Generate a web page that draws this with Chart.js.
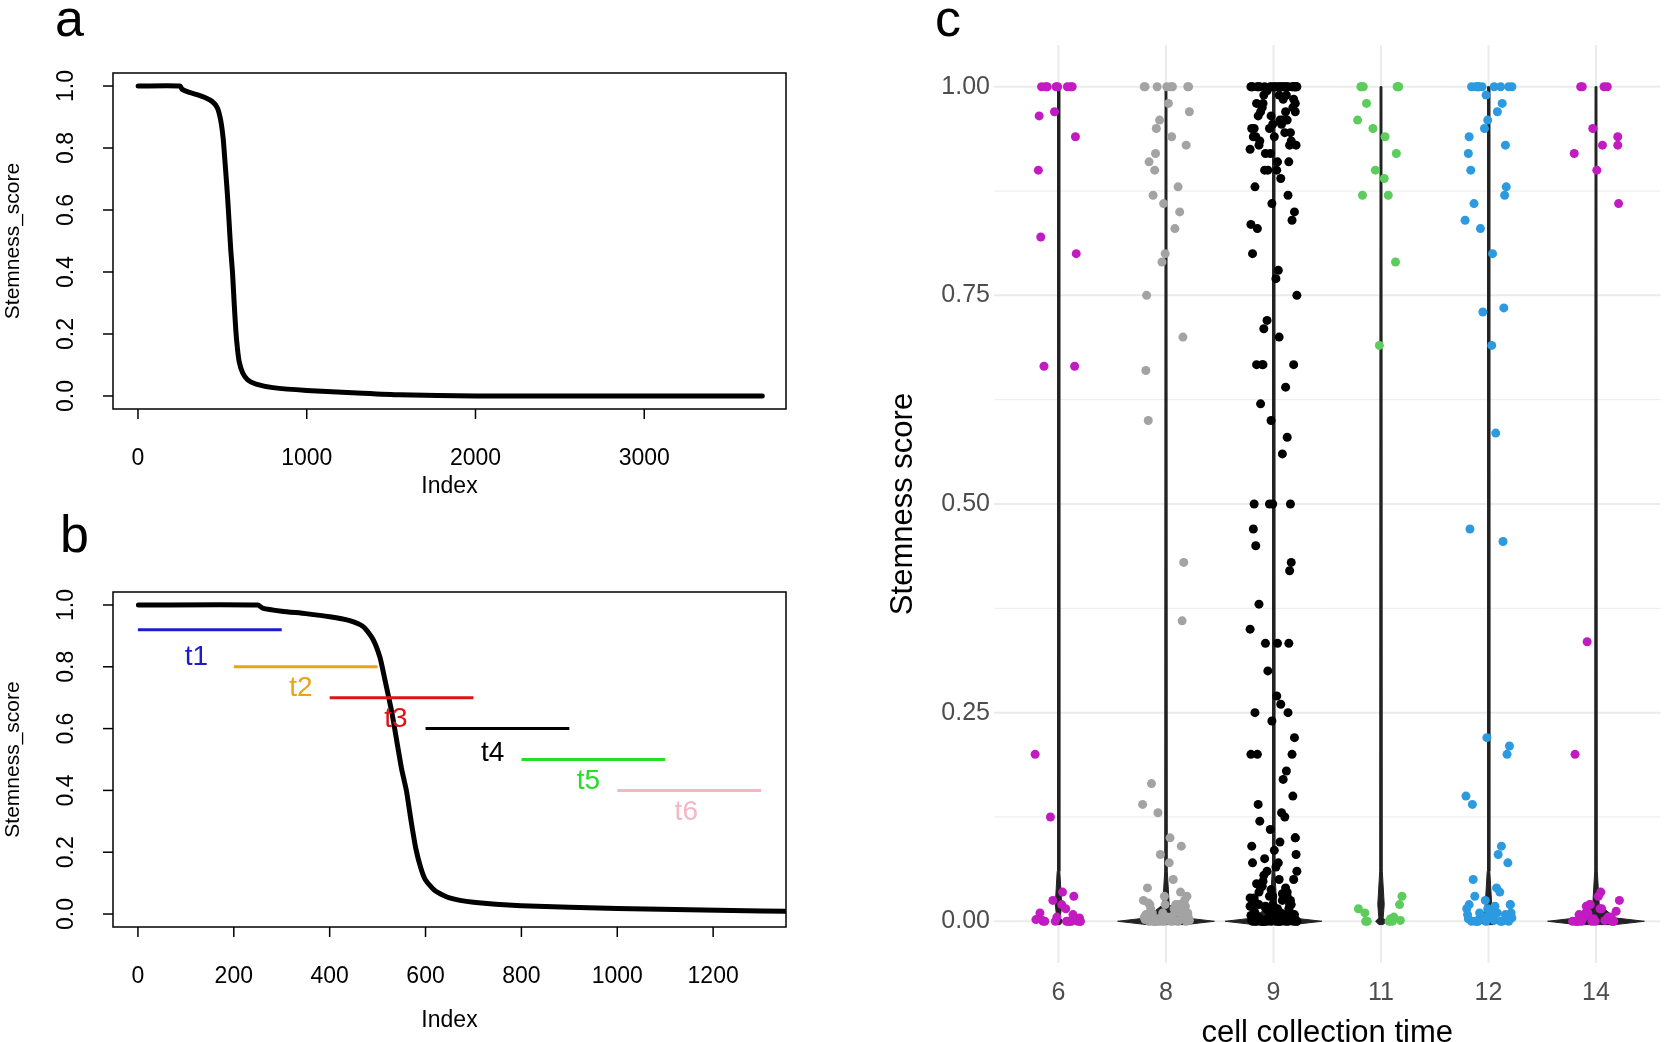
<!DOCTYPE html>
<html>
<head>
<meta charset="utf-8">
<script src="https://cdn.jsdelivr.net/npm/chart.js@4"></script>
<style>
  body { margin:0; background:#fff; width:1665px; height:1042px; overflow:hidden; position:relative; font-family:"Liberation Sans", Arial, sans-serif; }
  canvas { position:absolute; }
  .lt { position:absolute; font-size:52px; line-height:1; color:#000; }
</style>
</head>
<body>
<div class="lt" style="left:55px;top:-8px">a</div>
<div class="lt" style="left:60px;top:508px">b</div>
<div class="lt" style="left:935px;top:-8px">c</div>
<canvas id="chartA" width="820" height="520" style="left:0;top:0"></canvas>
<canvas id="chartB" width="820" height="522" style="left:0;top:520px"></canvas>
<canvas id="chartC" width="825" height="1042" style="left:840px;top:0"></canvas>
<script>
var curveIdx = [1, 250, 260, 300, 350, 400, 440, 470, 490, 505, 515, 530, 540, 550, 560, 570, 580, 590, 600, 620, 650, 700, 800, 1000, 1300, 1550, 2000, 3700];
var curveVal = [1, 1, 0.99, 0.98, 0.972, 0.962, 0.95, 0.93, 0.89, 0.83, 0.76, 0.65, 0.56, 0.47, 0.4, 0.3, 0.21, 0.15, 0.11, 0.075, 0.052, 0.038, 0.027, 0.018, 0.01, 0.004, 0, 0];

// time windows in panel b
var winNames = ["t1", "t2", "t3", "t4", "t5", "t6"];
var winStart = [0, 200, 400, 600, 800, 1000];
var winEnd = [300, 500, 700, 900, 1100, 1300];
var winLevel = [0.92, 0.8, 0.7, 0.6, 0.5, 0.4];
var winLabelX = [122, 340, 538, 740, 940, 1144];
var winLabelY = [0.83, 0.73, 0.63, 0.52, 0.43, 0.33];
var winColors = ["#1c1ccc", "#e9a317", "#dd1414", "#000000", "#28dd28", "#f4b7c5"];

var ticksA = [0, 1000, 2000, 3000];
var ticksB = [0, 200, 400, 600, 800, 1000, 1200];
var ticksY = [0, 0.2, 0.4, 0.6, 0.8, 1.0];

// panel c
var times = ["6", "8", "9", "11", "12", "14"];
var timeColors = ["#c21bc2", "#a3a3a3", "#000000", "#5ccc5c", "#2b9ae0", "#c21bc2"];
var violinWidth = [0.04, 0.45, 0.45, 0.05, 0.1, 0.45];
var scoreT6 = [1, 1, 1, 1, 1, 1, 1, 1, 0.97, 0.965, 0.94, 0.9, 0.82, 0.8, 0.665, 0.665, 0.2, 0.125, 0.035, 0.03, 0.025, 0.02, 0.015, 0.01, 0.008, 0.005, 0.004, 0.003, 0.002, 0.001, 0, 0, 0, 0, 0, 0, 0, 0, 0, 0];
var scoreT8 = [1, 1, 1, 1, 1, 1, 1, 1, 0.98, 0.97, 0.96, 0.95, 0.94, 0.93, 0.92, 0.91, 0.9, 0.88, 0.87, 0.86, 0.85, 0.83, 0.8, 0.79, 0.75, 0.7, 0.66, 0.6, 0.43, 0.36, 0.165, 0.14, 0.13, 0.1, 0.09, 0.08, 0.07, 0.05, 0.04, 0.035, 0.03, 0.03, 0.025, 0.025, 0.02, 0.02, 0.02, 0.018, 0.015, 0.015, 0.012, 0.01, 0.01, 0.01, 0.008, 0.006, 0.005, 0.005, 0.004, 0.003, 0.002, 0.002, 0.001, 0.001, 0, 0, 0, 0, 0, 0, 0, 0, 0, 0, 0.01, 0.015, 0.02, 0.005, 0.003, 0.012, 0.008, 0.022, 0.018, 0.006];
var scoreT9 = [1, 1, 1, 1, 1, 1, 1, 1, 1, 1, 1, 1, 1, 1, 1, 1, 1, 1, 1, 1, 1, 1, 1, 1, 1, 0.995, 0.99, 0.99, 0.985, 0.98, 0.98, 0.975, 0.97, 0.97, 0.965, 0.96, 0.96, 0.955, 0.95, 0.95, 0.945, 0.94, 0.94, 0.935, 0.93, 0.93, 0.925, 0.92, 0.91, 0.91, 0.9, 0.9, 0.89, 0.88, 0.87, 0.86, 0.85, 0.84, 0.835, 0.83, 0.99, 0.985, 0.975, 0.965, 0.955, 0.945, 0.935, 0.92, 0.98, 0.97, 0.96, 0.95, 0.94, 0.93, 0.9, 0.8, 0.78, 0.77, 0.75, 0.72, 0.71, 0.7, 0.667, 0.667, 0.667, 0.667, 0.64, 0.62, 0.6, 0.58, 0.56, 0.5, 0.5, 0.5, 0.5, 0.47, 0.45, 0.43, 0.42, 0.38, 0.35, 0.333, 0.333, 0.333, 0.3, 0.27, 0.26, 0.25, 0.25, 0.24, 0.22, 0.2, 0.2, 0.2, 0.18, 0.17, 0.15, 0.14, 0.13, 0.125, 0.12, 0.11, 0.1, 0.1, 0.095, 0.09, 0.085, 0.08, 0.075, 0.07, 0.07, 0.065, 0.06, 0.06, 0.055, 0.05, 0.05, 0.048, 0.045, 0.042, 0.04, 0.04, 0.038, 0.035, 0.033, 0.03, 0.03, 0.028, 0.025, 0.025, 0.022, 0.02, 0.02, 0.02, 0.018, 0.016, 0.015, 0.015, 0.013, 0.012, 0.01, 0.01, 0.01, 0.009, 0.008, 0.008, 0.007, 0.006, 0.005, 0.005, 0.005, 0.004, 0.004, 0.003, 0.003, 0.002, 0.002, 0.002, 0.001, 0.001, 0.001, 0, 0, 0, 0, 0, 0, 0, 0, 0, 0, 0, 0, 0, 0, 0, 0, 0.03, 0.025, 0.02, 0.015, 0.012, 0.01, 0.008, 0.006, 0.004, 0.002, 0.035, 0.028, 0.018, 0.011, 0.007, 0.003, 0.001, 0, 0, 0];
var scoreT11 = [1, 1, 1, 1, 1, 1, 0.98, 0.96, 0.95, 0.94, 0.92, 0.9, 0.89, 0.87, 0.87, 0.79, 0.69, 0.03, 0.02, 0.015, 0.01, 0.005, 0.003, 0.001, 0, 0, 0, 0];
var scoreT12 = [1, 1, 1, 1, 1, 1, 1, 1, 1, 1, 0.99, 0.98, 0.97, 0.96, 0.95, 0.94, 0.93, 0.92, 0.9, 0.88, 0.87, 0.86, 0.84, 0.83, 0.8, 0.735, 0.73, 0.69, 0.585, 0.47, 0.455, 0.22, 0.21, 0.2, 0.15, 0.14, 0.09, 0.08, 0.07, 0.05, 0.04, 0.035, 0.03, 0.025, 0.02, 0.02, 0.018, 0.015, 0.012, 0.01, 0.01, 0.008, 0.006, 0.005, 0.004, 0.003, 0.002, 0.001, 0, 0, 0, 0, 0, 0, 0, 0, 0.01, 0.015, 0.005, 0.02, 0.008, 0.003];
var scoreT14 = [1, 1, 1, 1, 0.95, 0.94, 0.93, 0.93, 0.92, 0.9, 0.86, 0.335, 0.2, 0.035, 0.03, 0.025, 0.02, 0.018, 0.015, 0.012, 0.01, 0.008, 0.006, 0.005, 0.004, 0.003, 0.002, 0.001, 0, 0, 0, 0, 0, 0, 0, 0, 0, 0, 0.01, 0.015, 0.005, 0.02];
var scoresByTime = [scoreT6, scoreT8, scoreT9, scoreT11, scoreT12, scoreT14];
var jitter = [-0.21, 0.12, -0.05, 0.27, -0.29, 0.03, 0.18, -0.14, 0.24, -0.24, 0.08, -0.1, 0.29, -0.02, 0.15, -0.19, 0.21, -0.27, 0.05, -0.08, 0.26, -0.16, 0.1, -0.25, 0.01, 0.19, -0.12, 0.23, -0.03, 0.14, -0.22, 0.28, -0.07, 0.07, -0.28, 0.17, -0.17, 0.22, -0.11, 0.04, 0.25, -0.2, 0.11, -0.04, 0.2, -0.26, 0.09, -0.13, 0.16, -0.01, 0.27, -0.18, 0.06, -0.23];

var FONT = '"Liberation Sans", Arial, sans-serif';

function toXY(xs, ys) {
  var out = [];
  for (var i = 0; i < xs.length; i++) out.push({ x: xs[i], y: ys[i] });
  return out;
}

// base R style frame, ticks and labels
function rFrame(xTicks, titleX, titleY) {
  return {
    id: "rframe",
    afterDraw: function(chart) {
      var c = chart.ctx, a = chart.chartArea, sx = chart.scales.x, sy = chart.scales.y;
      c.save();
      c.strokeStyle = "#000"; c.lineWidth = 1.5;
      c.strokeRect(a.left, a.top, a.right - a.left, a.bottom - a.top);
      c.fillStyle = "#000"; c.font = "23px " + FONT;
      c.textAlign = "center"; c.textBaseline = "middle";
      xTicks.forEach(function(t) {
        var p = sx.getPixelForValue(t);
        c.beginPath(); c.moveTo(p, a.bottom); c.lineTo(p, a.bottom + 10); c.stroke();
        c.fillText(String(t), p, a.bottom + 50);
      });
      ticksY.forEach(function(t) {
        var p = sy.getPixelForValue(t);
        c.beginPath(); c.moveTo(a.left, p); c.lineTo(a.left - 10, p); c.stroke();
        c.save(); c.translate(67, p); c.rotate(-Math.PI / 2);
        c.fillText(t.toFixed(1), 0, 0); c.restore();
      });
      c.fillText("Index", (a.left + a.right) / 2, a.bottom + titleX);
      c.font = "21px " + FONT;
      c.save(); c.translate(13, (a.top + a.bottom) / 2 + titleY); c.rotate(-Math.PI / 2);
      c.fillText("Stemness_score", 0, 0); c.restore();
      c.restore();
    }
  };
}

var curveSet = {
  data: toXY(curveIdx, curveVal), borderColor: "#000", borderWidth: 5,
  pointRadius: 0, showLine: true, tension: 0.2, borderCapStyle: "round", borderJoinStyle: "round"
};

new Chart(document.getElementById("chartA"), {
  type: "scatter",
  data: { datasets: [curveSet] },
  options: {
    responsive: false, animation: false, devicePixelRatio: 1,
    layout: { padding: { left: 113, top: 73, right: 34, bottom: 111 } },
    plugins: { legend: { display: false }, tooltip: { enabled: false } },
    scales: {
      x: { type: "linear", min: -148, max: 3840, display: false },
      y: { min: -0.042, max: 1.042, display: false }
    }
  },
  plugins: [rFrame(ticksA, 78, 0)]
});

var dsB = [Object.assign({}, curveSet, { data: toXY(curveIdx, curveVal), order: 10 })];
for (var w = 0; w < winNames.length; w++) {
  dsB.push({
    data: [{ x: winStart[w], y: winLevel[w] }, { x: winEnd[w], y: winLevel[w] }],
    borderColor: winColors[w], borderWidth: 3, pointRadius: 0, showLine: true, order: 1
  });
}

var winLabels = {
  id: "winLabels",
  afterDatasetsDraw: function(chart) {
    var c = chart.ctx, sx = chart.scales.x, sy = chart.scales.y;
    c.save(); c.font = "28px " + FONT; c.textAlign = "center"; c.textBaseline = "middle";
    for (var i = 0; i < winNames.length; i++) {
      c.fillStyle = winColors[i];
      c.fillText(winNames[i], sx.getPixelForValue(winLabelX[i]), sy.getPixelForValue(winLabelY[i]));
    }
    c.restore();
  }
};

new Chart(document.getElementById("chartB"), {
  type: "scatter",
  data: { datasets: dsB },
  options: {
    responsive: false, animation: false, devicePixelRatio: 1,
    layout: { padding: { left: 113, top: 72, right: 34, bottom: 115 } },
    plugins: { legend: { display: false }, tooltip: { enabled: false } },
    scales: {
      x: { type: "linear", min: -52, max: 1352, display: false },
      y: { min: -0.042, max: 1.042, display: false }
    }
  },
  plugins: [rFrame(ticksB, 94, 0), winLabels]
});

// panel c: violins + jittered points
var dsC = [];
for (var g = 0; g < times.length; g++) {
  var cx = g + 1, hw = violinWidth[g];
  dsC.push({
    data: [
      { x: cx - hw, y: 0 }, { x: cx - hw * 0.4, y: 0.004 }, { x: cx - 0.03, y: 0.02 },
      { x: cx - 0.012, y: 0.06 }, { x: cx - 0.009, y: 1 }, { x: cx + 0.009, y: 1 },
      { x: cx + 0.012, y: 0.06 }, { x: cx + 0.03, y: 0.02 }, { x: cx + hw * 0.4, y: 0.004 },
      { x: cx + hw, y: 0 }, { x: cx + hw * 0.4, y: -0.004 }, { x: cx - hw * 0.4, y: -0.004 },
      { x: cx - hw, y: 0 }
    ],
    showLine: true, fill: "shape", backgroundColor: "#222", borderColor: "#222",
    borderWidth: 1, pointRadius: 0, tension: 0, order: 5
  });
}
for (var g2 = 0; g2 < times.length; g2++) {
  var pts = scoresByTime[g2].map(function(y, i) {
    return { x: g2 + 1 + 0.75 * jitter[(i * 7 + g2 * 3) % jitter.length], y: y };
  });
  dsC.push({
    data: pts, backgroundColor: timeColors[g2], borderColor: timeColors[g2],
    pointRadius: 4.5, borderWidth: 0, order: 1
  });
}

var ggTheme = {
  id: "ggTheme",
  beforeDatasetsDraw: function(chart) {
    var c = chart.ctx, a = chart.chartArea, sx = chart.scales.x, sy = chart.scales.y;
    c.save();
    for (var v = 0; v <= 8; v++) {
      var p = sy.getPixelForValue(v * 0.125);
      c.strokeStyle = "#ebebeb"; c.lineWidth = v % 2 === 0 ? 2 : 1;
      c.beginPath(); c.moveTo(a.left, p); c.lineTo(a.right, p); c.stroke();
    }
    c.lineWidth = 2;
    for (var g = 1; g <= 6; g++) {
      var q = sx.getPixelForValue(g);
      c.beginPath(); c.moveTo(q, a.top); c.lineTo(q, a.bottom); c.stroke();
    }
    c.restore();
  },
  afterDraw: function(chart) {
    var c = chart.ctx, a = chart.chartArea, sx = chart.scales.x, sy = chart.scales.y;
    c.save(); c.fillStyle = "#4d4d4d"; c.font = "25px " + FONT;
    c.textAlign = "right"; c.textBaseline = "middle";
    for (var v = 0; v <= 4; v++) c.fillText((v * 0.25).toFixed(2), a.left - 4, sy.getPixelForValue(v * 0.25));
    c.textAlign = "center";
    for (var g = 0; g < times.length; g++) c.fillText(times[g], sx.getPixelForValue(g + 1), a.bottom + 30);
    c.fillStyle = "#000"; c.font = "31px " + FONT;
    c.fillText("cell collection time", (a.left + a.right) / 2, a.bottom + 70);
    c.save(); c.translate(63, (a.top + a.bottom) / 2); c.rotate(-Math.PI / 2);
    c.fillText("Stemness score", 0, 0); c.restore();
    c.restore();
  }
};

new Chart(document.getElementById("chartC"), {
  type: "scatter",
  data: { datasets: dsC },
  options: {
    responsive: false, animation: false, devicePixelRatio: 1,
    layout: { padding: { left: 154, top: 45, right: 0, bottom: 79 } },
    plugins: { legend: { display: false }, tooltip: { enabled: false } },
    scales: {
      x: { type: "linear", min: 0.4, max: 6.6, display: false },
      y: { min: -0.05, max: 1.05, display: false }
    }
  },
  plugins: [ggTheme]
});
</script>
</body>
</html>
